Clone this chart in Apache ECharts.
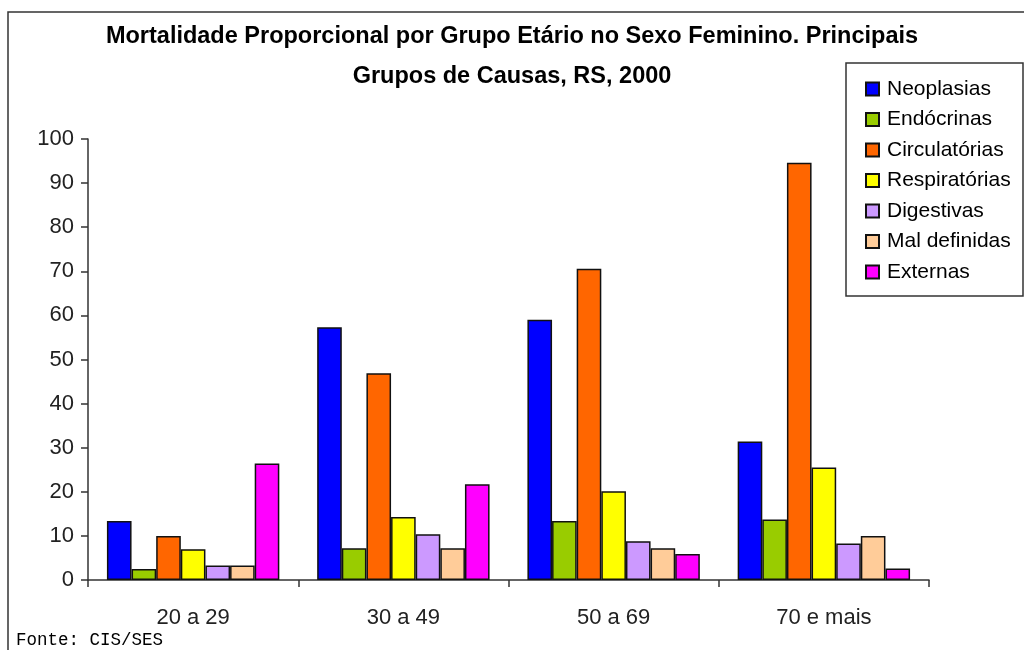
<!DOCTYPE html>
<html>
<head>
<meta charset="utf-8">
<script src="https://cdn.jsdelivr.net/npm/echarts@6/dist/echarts.min.js"></script>
<style>
  html, body { margin: 0; padding: 0; background: #fff; }
  #chart { width: 1024px; height: 650px; }
</style>
</head>
<body>
<div id="chart"></div>
<script>
// faixas etárias
const categories = ['20 a 29', '30 a 49', '50 a 69', '70 e mais'];
// grupos de causas
const causes = ['Neoplasias', 'Endócrinas', 'Circulatórias', 'Respiratórias', 'Digestivas', 'Mal definidas', 'Externas'];
const neoplasias = [13.4, 57.3, 59.0, 31.4];
const endocrinas = [2.5, 7.2, 13.4, 13.7];
const circulatorias = [10.0, 46.9, 70.6, 94.6];
const respiratorias = [7.0, 14.3, 20.1, 25.5];
const digestivas = [3.3, 10.4, 8.8, 8.3];
const malDefinidas = [3.3, 7.2, 7.2, 10.0];
const externas = [26.4, 21.7, 5.9, 2.6];
const yTicks = [0, 10, 20, 30, 40, 50, 60, 70, 80, 90, 100];

const seriesValues = [neoplasias, endocrinas, circulatorias, respiratorias, digestivas, malDefinidas, externas];
const colors = ['#0000ff', '#99cc00', '#ff6600', '#ffff00', '#cc99ff', '#ffcc99', '#ff00ff'];
const font = "'Liberation Sans', Arial, sans-serif";

const chart = echarts.init(document.getElementById('chart'));

chart.setOption({
  animation: false,
  backgroundColor: '#fff',
  color: colors,
  title: {
    text: 'Mortalidade Proporcional por Grupo Etário no Sexo Feminino. Principais\nGrupos de Causas, RS, 2000',
    left: 'center',
    top: 12,
    textStyle: {
      fontFamily: font,
      fontSize: 23.5,
      fontWeight: 'bold',
      lineHeight: 40,
      color: '#000'
    }
  },
  legend: {
    orient: 'vertical',
    left: 860,
    top: 73,
    itemWidth: 13,
    itemHeight: 13,
    itemGap: 8.5,
    icon: 'rect',
    data: causes,
    textStyle: {
      fontFamily: font,
      fontSize: 21,
      lineHeight: 22,
      color: '#000',
      padding: [0, 0, 0, 3]
    }
  },
  grid: {
    left: 88,
    right: 95,
    top: 139,
    bottom: 70
  },
  xAxis: {
    type: 'category',
    data: categories,
    axisLine: { lineStyle: { color: '#333', width: 1.5 } },
    axisTick: { show: true, length: 7, lineStyle: { color: '#333', width: 1.5 } },
    axisLabel: {
      margin: 27,
      fontFamily: font,
      fontSize: 22,
      color: '#222'
    }
  },
  yAxis: {
    type: 'value',
    min: yTicks[0],
    max: yTicks[yTicks.length - 1],
    interval: 10,
    splitLine: { show: false },
    axisLine: { show: true, lineStyle: { color: '#333', width: 1.5 } },
    axisTick: { show: true, length: 7, lineStyle: { color: '#333', width: 1.5 } },
    axisLabel: {
      margin: 14,
      fontFamily: font,
      fontSize: 22,
      color: '#222'
    }
  },
  series: causes.map((name, i) => ({
    name: name,
    type: 'bar',
    data: seriesValues[i],
    barGap: '0%',
    barCategoryGap: '18%',
    itemStyle: {
      borderColor: '#111',
      borderWidth: 1.5
    }
  })),
  graphic: [
    {
      type: 'rect',
      shape: { x: 8, y: 12, width: 1040, height: 660 },
      style: { fill: 'none', stroke: '#333', lineWidth: 1.5 },
      silent: true
    },
    {
      type: 'rect',
      shape: { x: 846, y: 63, width: 177, height: 233 },
      style: { fill: 'none', stroke: '#333', lineWidth: 1.5 },
      silent: true
    },
    {
      type: 'text',
      left: 16,
      top: 631,
      style: {
        text: 'Fonte: CIS/SES',
        font: "17.5px 'Liberation Mono', 'DejaVu Sans Mono', monospace",
        fill: '#000'
      }
    }
  ]
});

window.addEventListener('resize', () => chart.resize());
</script>
</body>
</html>
